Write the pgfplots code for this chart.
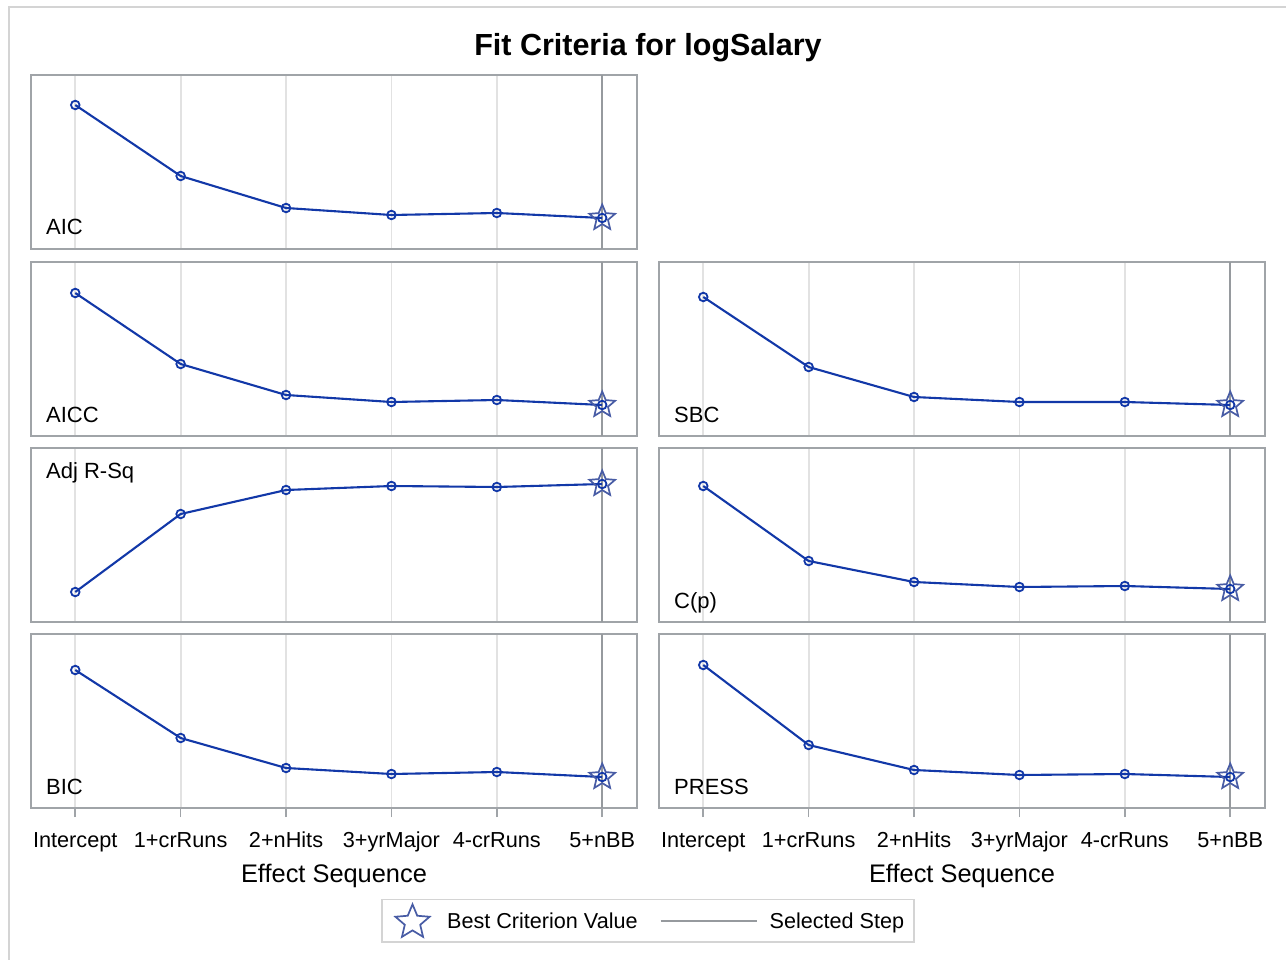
\documentclass[border=0pt]{standalone}
\usepackage{fontspec}
\setmainfont{Liberation Sans}
\usepackage{pgfplots}
\pgfplotsset{compat=1.18}
\definecolor{linecol}{RGB}{18,56,168}
\definecolor{starcol}{RGB}{72,92,165}
\definecolor{bordcol}{RGB}{160,164,168}
\definecolor{gridcol}{RGB}{226,226,226}
\definecolor{selcol}{RGB}{150,154,158}
\definecolor{outercol}{RGB}{212,212,212}
\newcommand{\fs}[1]{\fontsize{#1pt}{#1pt}\selectfont}
\pgfdeclareplotmark{ostar}{%
  \pgfpathmoveto{\pgfpointpolar{90}{\pgfplotmarksize}}%
  \pgfpathlineto{\pgfpointpolar{126}{0.45\pgfplotmarksize}}%
  \pgfpathlineto{\pgfpointpolar{162}{\pgfplotmarksize}}%
  \pgfpathlineto{\pgfpointpolar{198}{0.45\pgfplotmarksize}}%
  \pgfpathlineto{\pgfpointpolar{234}{\pgfplotmarksize}}%
  \pgfpathlineto{\pgfpointpolar{270}{0.45\pgfplotmarksize}}%
  \pgfpathlineto{\pgfpointpolar{306}{\pgfplotmarksize}}%
  \pgfpathlineto{\pgfpointpolar{342}{0.45\pgfplotmarksize}}%
  \pgfpathlineto{\pgfpointpolar{18}{\pgfplotmarksize}}%
  \pgfpathlineto{\pgfpointpolar{54}{0.45\pgfplotmarksize}}%
  \pgfpathclose\pgfusepathqstroke}
\pgfplotsset{
  panel/.style={scale only axis, width=606pt, height=174pt, anchor=north west,
    xmin=-0.42, xmax=5.33, ymin=0, ymax=174,
    axis line style={draw=bordcol, line width=2pt},
    xtick={0,...,5}, ytick=\empty, xticklabels=\empty,
    major tick length=0pt, xmajorgrids,
    grid style={gridcol, line width=1.8pt}, clip=false},
  bottompanel/.style={major tick length=9pt, tick align=outside, xtick pos=left,
    tick style={bordcol, line width=1.6pt},
    xticklabels={Intercept,1+crRuns,2+nHits,3+yrMajor,4-crRuns,5+nBB},
    xticklabel style={font=\fs{21.7}, anchor=base, yshift=-30pt},
    xlabel={Effect Sequence},
    xlabel style={font=\fs{25.4}, anchor=base, at={(axis description cs:0.5,0)}, yshift=-74pt}},
  dataline/.style={linecol, line width=2.1pt, mark=o, mark size=4.3pt, mark options={line width=1.8pt}},
  beststar/.style={only marks, starcol, mark=ostar, mark size=13.5pt, mark options={line width=1.7pt}},
  selline/.style={selcol, line width=2pt},
  selleg/.style={legend image code/.code={\draw[selcol, line width=2pt] (0pt,0pt) -- (96pt,0pt);}},
  starleg/.style={legend image code/.code={\path (0pt,0pt); \path[starcol, line width=1.7pt] plot[mark=ostar, mark size=18pt] coordinates {(22pt,-1pt)};}},
}
\newcommand{\plab}[1]{\node[anchor=base west, inner sep=0pt, font=\fs{22}] at (axis description cs:0,0) [xshift=15pt, yshift=14pt] {#1};}
\newcommand{\plabtop}[1]{\node[anchor=base west, inner sep=0pt, font=\fs{22}] at (axis description cs:0,1) [xshift=15pt, yshift=-30pt] {#1};}
\begin{document}
\begin{tikzpicture}
\useasboundingbox (0pt,0pt) rectangle (1286pt,-960pt);
\fill[white] (0pt,0pt) rectangle (1286pt,-960pt);
\draw[outercol, line width=2pt] (9pt,-1000pt) -- (9pt,-7pt) -- (1300pt,-7pt);
\node[anchor=base, font=\bfseries\fs{30.5}, inner sep=0pt] at (648pt,-56pt) {Fit Criteria for logSalary};

% AIC
\begin{axis}[panel, at={(31pt,-75pt)}]
\addplot[selline] coordinates {(5,0) (5,174)};
\addplot[dataline] coordinates {(0,144) (1,73) (2,41) (3,34) (4,36) (5,31)};
\addplot[beststar] coordinates {(5,31)};
\plab{AIC}
\end{axis}

% AICC
\begin{axis}[panel, at={(31pt,-262pt)}]
\addplot[selline] coordinates {(5,0) (5,174)};
\addplot[dataline] coordinates {(0,143) (1,72) (2,41) (3,34) (4,36) (5,31)};
\addplot[beststar] coordinates {(5,31)};
\plab{AICC}
\end{axis}

% SBC
\begin{axis}[panel, at={(659pt,-262pt)}]
\addplot[selline] coordinates {(5,0) (5,174)};
\addplot[dataline] coordinates {(0,139) (1,69) (2,39) (3,34) (4,34) (5,31)};
\addplot[beststar] coordinates {(5,31)};
\plab{SBC}
\end{axis}

% Adj R-Sq
\begin{axis}[panel, at={(31pt,-448pt)}]
\addplot[selline] coordinates {(5,0) (5,174)};
\addplot[dataline] coordinates {(0,30) (1,108) (2,132) (3,136) (4,135) (5,138)};
\addplot[beststar] coordinates {(5,138)};
\plabtop{Adj R-Sq}
\end{axis}

% C(p)
\begin{axis}[panel, at={(659pt,-448pt)}]
\addplot[selline] coordinates {(5,0) (5,174)};
\addplot[dataline] coordinates {(0,136) (1,61) (2,40) (3,35) (4,36) (5,33)};
\addplot[beststar] coordinates {(5,33)};
\plab{C(p)}
\end{axis}

% BIC
\begin{axis}[panel, bottompanel, at={(31pt,-634pt)},
  legend columns=2,
  legend style={at={(axis description cs:1.018,-0.647)}, anchor=center,
    draw=outercol, line width=1.6pt, font=\fs{21.6}, inner xsep=8pt, inner ysep=5pt,
    /tikz/column 1/.style={column sep=15.5pt},
    /tikz/column 2/.style={column sep=20pt},
    /tikz/column 3/.style={column sep=10pt}},
  ]
\addlegendimage{starleg}
\addlegendentry{Best Criterion Value}
\addlegendimage{selleg}
\addlegendentry{Selected Step}
\addplot[selline, forget plot] coordinates {(5,0) (5,174)};
\addplot[dataline, forget plot] coordinates {(0,138) (1,70) (2,40) (3,34) (4,36) (5,31)};
\addplot[beststar, forget plot] coordinates {(5,31)};
\plab{BIC}
\end{axis}

% PRESS
\begin{axis}[panel, bottompanel, at={(659pt,-634pt)}]
\addplot[selline] coordinates {(5,0) (5,174)};
\addplot[dataline] coordinates {(0,143) (1,63) (2,38) (3,33) (4,34) (5,31)};
\addplot[beststar] coordinates {(5,31)};
\plab{PRESS}
\end{axis}
\end{tikzpicture}
\end{document}
